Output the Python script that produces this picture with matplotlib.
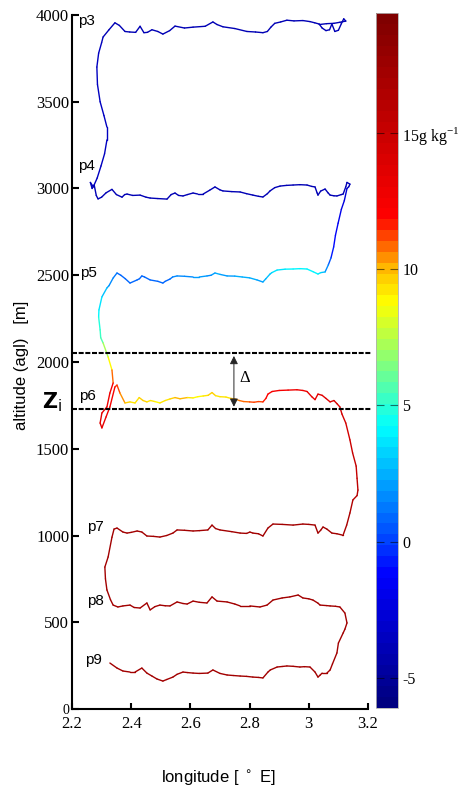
import numpy as np
import matplotlib
matplotlib.use("Agg")
import matplotlib.pyplot as plt
from matplotlib.collections import LineCollection
from matplotlib.colors import LinearSegmentedColormap, Normalize
from matplotlib.cm import ScalarMappable

# ---------------- data ----------------
# leg p3 (flown right -> left)
p3_lon = [3.035, 3.060, 3.085, 3.105, 3.125, 3.118, 3.110, 3.100, 3.088, 3.078, 3.070, 3.058,
          3.045, 3.035, 3.020, 3.004, 2.980, 2.950, 2.926, 2.905, 2.885, 2.872, 2.860, 2.845,
          2.820, 2.791, 2.750, 2.710, 2.690, 2.676, 2.650, 2.609, 2.580, 2.548, 2.530, 2.507,
          2.490, 2.470, 2.455, 2.443, 2.430, 2.415, 2.395, 2.379, 2.360, 2.345, 2.325, 2.305]
p3_alt = [3945, 3950, 3952, 3958, 3965, 3978, 3950, 3912, 3905, 3948, 3915, 3910,
          3925, 3948, 3955, 3962, 3968, 3966, 3970, 3960, 3952, 3930, 3905, 3898,
          3902, 3905, 3922, 3932, 3945, 3960, 3935, 3930, 3925, 3936, 3910, 3890,
          3905, 3915, 3900, 3898, 3935, 3900, 3902, 3905, 3940, 3955, 3915, 3873]
p3_q = -4.0

# profile p3 -> p4 (west side)
d34_lon = [2.300, 2.290, 2.284, 2.286, 2.295, 2.308, 2.318, 2.318, 2.310, 2.298, 2.285, 2.272]
d34_alt = [3840, 3780, 3700, 3600, 3500, 3420, 3354, 3280, 3200, 3130, 3060, 3010]
d34_q = -3.6

# leg p4 (left -> right)
p4_lon = [2.262, 2.268, 2.275, 2.282, 2.288, 2.300, 2.315, 2.335, 2.350, 2.369, 2.378, 2.386,
          2.405, 2.430, 2.450, 2.464, 2.490, 2.521, 2.535, 2.548, 2.560, 2.575, 2.590, 2.609,
          2.625, 2.643, 2.665, 2.683, 2.700, 2.710, 2.740, 2.768, 2.790, 2.811, 2.830, 2.845,
          2.860, 2.869, 2.885, 2.903, 2.925, 2.947, 2.970, 2.994, 3.010, 3.021, 3.028, 3.031,
          3.040, 3.055, 3.065, 3.072, 3.085, 3.095, 3.110, 3.116, 3.125, 3.129, 3.139, 3.135]
p4_alt = [3035, 3000, 3020, 2960, 2940, 2950, 2975, 2995, 2965, 2950, 2965, 2968,
          2960, 2962, 2950, 2945, 2942, 2939, 2965, 2974, 2960, 2957, 2965, 2974,
          2968, 2968, 2990, 3009, 2992, 2986, 2982, 2980, 2970, 2962, 2955, 2951,
          2970, 2986, 3005, 3014, 3018, 3020, 3022, 3020, 3012, 3009, 2975, 2962,
          2985, 2997, 2975, 2962, 2958, 2957, 2965, 2968, 3010, 3035, 3025, 3010]
p4_q = -3.8

# profile p4 -> p5 (east side)
d45_lon = [3.129, 3.120, 3.110, 3.099, 3.090, 3.084, 3.075, 3.066, 3.055]
d45_alt = [3000, 2930, 2880, 2800, 2730, 2663, 2600, 2560, 2519]
d45_q = [-3.0, -2.6, -2.2, -1.8, -1.4, -0.9, -0.2, 1.0, 2.5]

# leg p5 (right -> left)
p5_lon = [3.040, 3.031, 3.015, 2.994, 2.970, 2.947, 2.920, 2.893, 2.875, 2.869, 2.855, 2.845,
          2.825, 2.800, 2.775, 2.750, 2.724, 2.700, 2.683, 2.670, 2.656, 2.630, 2.609, 2.580,
          2.555, 2.540, 2.531, 2.515, 2.507, 2.490, 2.464, 2.445, 2.436, 2.428, 2.420, 2.396,
          2.380, 2.365, 2.352, 2.339, 2.325, 2.318, 2.301, 2.291, 2.290, 2.295]
p5_alt = [2515, 2507, 2520, 2536, 2538, 2536, 2535, 2530, 2515, 2507, 2480, 2461,
          2473, 2485, 2490, 2495, 2496, 2505, 2513, 2500, 2496, 2490, 2490, 2494,
          2496, 2490, 2478, 2465, 2455, 2465, 2473, 2490, 2496, 2480, 2473, 2455,
          2480, 2500, 2513, 2484, 2440, 2427, 2375, 2300, 2259, 2185]
p5_q = [3.6, 3.8, 4.0, 4.0, 3.8, 4.0, 3.9, 3.7, 3.5, 3.0, 2.6, 2.3,
        2.2, 2.5, 2.7, 2.3, 2.0, 2.2, 2.5, 1.9, 1.8, 2.1, 2.0, 1.6,
        1.8, 1.4, 1.1, 1.0, 1.1, 0.9, 1.0, 0.8, 1.0, 0.9, 0.8, 0.9,
        1.0, 0.9, 1.0, 1.4, 2.0, 2.5, 3.2, 4.0, 4.5, 5.0]

# profile p5 -> p6 (west side)
d56_lon = [2.297, 2.305, 2.322, 2.335, 2.339, 2.328, 2.318, 2.301, 2.295, 2.301, 2.315, 2.328,
           2.345, 2.352, 2.362, 2.379]
d56_alt = [2140, 2110, 2029, 1954, 1879, 1821, 1741, 1706, 1648, 1620, 1683, 1741,
           1856, 1867, 1821, 1764]
d56_q = [5.5, 6.2, 8.0, 9.5, 12.0, 12.8, 13.2, 13.5, 13.5, 13.5, 13.0, 12.5,
         12.0, 11.5, 11.0, 10.0]

# leg p6 (left -> right)
p6_lon = [2.379, 2.396, 2.413, 2.427, 2.440, 2.453, 2.465, 2.480, 2.497, 2.515,
          2.531, 2.548, 2.565, 2.590, 2.609, 2.625, 2.643, 2.660, 2.673, 2.685,
          2.700, 2.720, 2.737, 2.750, 2.765, 2.780, 2.800, 2.815, 2.830, 2.845,
          2.855, 2.862, 2.876, 2.900, 2.930, 2.960, 2.980, 2.994, 3.010, 3.021,
          3.031, 3.045, 3.058, 3.072, 3.085, 3.095, 3.105]
p6_alt = [1764, 1770, 1764, 1795, 1778, 1770, 1778, 1772, 1764, 1778,
          1787, 1795, 1788, 1795, 1793, 1800, 1804, 1808, 1824, 1806,
          1800, 1798, 1790, 1787, 1778, 1772, 1770, 1768, 1772, 1770,
          1790, 1815, 1830, 1836, 1838, 1840, 1836, 1830, 1800, 1783,
          1815, 1808, 1790, 1770, 1778, 1760, 1741]
p6_q = [10.0, 9.5, 9.0, 9.3, 9.8, 9.5, 9.2, 9.0, 9.0, 9.2,
        9.6, 10.0, 10.2, 9.5, 9.0, 8.8, 9.0, 9.5, 9.8, 9.2,
        9.0, 9.2, 9.6, 10.3, 10.5, 10.8, 11.0, 11.2, 11.3, 11.5,
        11.8, 12.0, 12.3, 12.5, 12.5, 12.8, 13.0, 13.0, 13.2, 13.3,
        13.5, 13.5, 13.7, 13.8, 14.0, 14.0, 14.2]

# profile p6 -> p7 (east side)
d67_lon = [3.112, 3.125, 3.139, 3.148, 3.160, 3.163, 3.166, 3.163, 3.149, 3.139, 3.128, 3.116]
d67_alt = [1700, 1648, 1551, 1476, 1400, 1330, 1262, 1230, 1205, 1130, 1060, 1003]
d67_q = [14.3, 14.5, 14.7, 15.0, 15.3, 15.5, 15.8, 16.0, 16.3, 16.5, 16.8, 17.0]

# leg p7 (right -> left)
p7_lon = [3.112, 3.095, 3.078, 3.061, 3.048, 3.040, 3.031, 3.021, 3.000, 2.980, 2.947, 2.910,
          2.879, 2.862, 2.845, 2.830, 2.811, 2.801, 2.790, 2.768, 2.740, 2.700, 2.685, 2.673,
          2.659, 2.630, 2.609, 2.580, 2.555, 2.541, 2.520, 2.497, 2.475, 2.453, 2.436, 2.420,
          2.400, 2.386, 2.372, 2.352, 2.342]
p7_alt = [1003, 1010, 1014, 1037, 1049, 1030, 1014, 1060, 1064, 1066, 1060, 1064,
          1066, 1043, 997, 1010, 1014, 1020, 1012, 1014, 1022, 1032, 1040, 1060,
          1032, 1028, 1026, 1030, 1032, 1014, 1000, 991, 995, 997, 1020, 1026,
          1018, 1014, 1020, 1043, 1037]
p7_q = 17.3

# profile p7 -> p8 (west side)
d78_lon = [2.335, 2.322, 2.311, 2.313, 2.318, 2.330, 2.339]
d78_alt = [990, 876, 818, 750, 686, 630, 599]
d78_q = 17.3

# leg p8 (left -> right)
p8_lon = [2.355, 2.372, 2.396, 2.410, 2.430, 2.453, 2.464, 2.480, 2.497, 2.515, 2.531, 2.555,
          2.575, 2.589, 2.609, 2.630, 2.656, 2.673, 2.690, 2.724, 2.750, 2.768, 2.801, 2.835,
          2.859, 2.879, 2.910, 2.936, 2.964, 2.980, 3.000, 3.014, 3.031, 3.038, 3.060, 3.072,
          3.090, 3.105, 3.122, 3.129]
p8_alt = [588, 594, 599, 585, 582, 611, 571, 590, 599, 595, 594, 617,
          608, 605, 622, 615, 611, 646, 622, 617, 605, 594, 594, 588,
          599, 628, 640, 646, 657, 640, 635, 628, 610, 599, 596, 594,
          592, 588, 553, 496]
p8_q = 17.3

# profile p8 -> p9 (east side)
d89_lon = [3.122, 3.116, 3.100, 3.095, 3.080, 3.072, 3.061]
d89_alt = [460, 438, 380, 323, 260, 225, 207]
d89_q = 17.3

# leg p9 (right -> left)
p9_lon = [3.045, 3.038, 3.031, 3.021, 3.004, 2.985, 2.970, 2.947, 2.926, 2.910, 2.893, 2.870,
          2.862, 2.845, 2.830, 2.811, 2.790, 2.768, 2.745, 2.724, 2.700, 2.676, 2.659, 2.630,
          2.609, 2.590, 2.575, 2.555, 2.541, 2.520, 2.507, 2.487, 2.470, 2.453, 2.436, 2.413,
          2.396, 2.372, 2.352, 2.328]
p9_alt = [207, 195, 184, 213, 242, 244, 242, 246, 248, 245, 242, 225,
          213, 179, 182, 184, 188, 190, 193, 196, 205, 225, 207, 205,
          207, 210, 213, 200, 184, 170, 161, 173, 190, 207, 236, 213,
          213, 219, 236, 265]
p9_q = 17.3

leg_names = ["p3", "p4", "p5", "p6", "p7", "p8", "p9"]
leg_label_lon = [2.220, 2.220, 2.227, 2.224, 2.251, 2.251, 2.244]
leg_label_alt = [3963, 3127, 2513, 1804, 1049, 620, 280]

zi_alt = 1727          # boundary-layer top (lower dashed line)
entr_top_alt = 2050    # top of entrainment zone (upper dashed line)
arrow_lon = 2.747

x_ticks = [2.2, 2.4, 2.6, 2.8, 3.0, 3.2]
x_ticklabels = ["2.2", "2.4", "2.6", "2.8", "3", "3.2"]
y_ticks = [0, 500, 1000, 1500, 2000, 2500, 3000, 3500, 4000]
cb_ticks = [-5, 0, 5, 10, 15]
cb_ticklabels = ["-5", "0", "5", "10", r"15g kg$^{\mathregular{-1}}$"]
q_min, q_max = -6.1, 19.4

# colour map anchors (value, colour)
cmap_vals = [-6.1, -1.3, 0.0, 4.2, 8.8, 10.0, 12.0, 19.4]
cmap_cols = [(0, 0, 0.5), (0, 0, 1), (0, 0.27, 1), (0, 1, 1), (1, 1, 0),
             (1, 0.75, 0), (1, 0, 0), (0.5, 0, 0)]

# ---------------- build track ----------------
segs = [(p3_lon, p3_alt, p3_q), (d34_lon, d34_alt, d34_q), (p4_lon, p4_alt, p4_q),
        (d45_lon, d45_alt, d45_q), (p5_lon, p5_alt, p5_q), (d56_lon, d56_alt, d56_q),
        (p6_lon, p6_alt, p6_q), (d67_lon, d67_alt, d67_q), (p7_lon, p7_alt, p7_q),
        (d78_lon, d78_alt, d78_q), (p8_lon, p8_alt, p8_q), (d89_lon, d89_alt, d89_q),
        (p9_lon, p9_alt, p9_q)]
lon_all, alt_all, q_all = [], [], []
for lo, al, qq in segs:
    lon_all += list(lo)
    alt_all += list(al)
    q_all += list(np.broadcast_to(np.asarray(qq, dtype=float), (len(lo),)))
lon_all = np.array(lon_all); alt_all = np.array(alt_all); q_all = np.array(q_all)

pos = [(v - q_min) / (q_max - q_min) for v in cmap_vals]
cmap = LinearSegmentedColormap.from_list("wv", list(zip(pos, cmap_cols)), N=64)
norm = Normalize(q_min, q_max)

serif = ["Liberation Serif", "DejaVu Serif"]
sans = ["Liberation Sans", "DejaVu Sans"]

fig = plt.figure(figsize=(4.59, 7.94), dpi=100)
ax = fig.add_axes([72 / 459, 1 - 709 / 794, 296 / 459, 694 / 794])
ax.set_xlim(2.2, 3.2)
ax.set_ylim(0, 4000)

pts = np.column_stack([lon_all, alt_all]).reshape(-1, 1, 2)
seg_arr = np.concatenate([pts[:-1], pts[1:]], axis=1)
lc = LineCollection(seg_arr, cmap=cmap, norm=norm, linewidths=1.0, capstyle="round")
lc.set_array(0.5 * (q_all[:-1] + q_all[1:]))
ax.add_collection(lc)

# dashed lines and arrow
for a in (entr_top_alt, zi_alt):
    ax.plot([2.2, 3.213], [a, a], color="k", lw=1.5, ls=(0, (2.4, 0.8)), clip_on=False, zorder=3)
ax.annotate("", xy=(arrow_lon, entr_top_alt - 15), xytext=(arrow_lon, zi_alt + 15),
            arrowprops=dict(arrowstyle="<|-|>", color="0.15", lw=0.7, mutation_scale=12,
                            shrinkA=0, shrinkB=0))
ax.text(arrow_lon + 0.037, 1908, "Δ", fontsize=12, family=serif, ha="center", va="center")
ax.text(2.132, 1770, r"$\mathbf{Z}_{\mathrm{i}}$", fontsize=15, ha="center", va="center",
        clip_on=False)

for nm, lo, al in zip(leg_names, leg_label_lon, leg_label_alt):
    ax.text(lo, al, nm, fontsize=11, family=sans, ha="left", va="center")

for s in ("top", "right"):
    ax.spines[s].set_visible(False)
for s in ("left", "bottom"):
    ax.spines[s].set_linewidth(1.5)
ax.set_xticks(x_ticks)
ax.set_xticklabels(x_ticklabels, family=serif, fontsize=12)
ax.set_yticks(y_ticks)
ax.set_yticklabels([str(v) for v in y_ticks], family=serif, fontsize=12)
ax.get_yticklabels()[0].set_fontsize(10)
ax.tick_params(axis="y", direction="in", length=5, width=1.5, pad=2)
ax.tick_params(axis="x", direction="in", length=4.5, width=1.5, pad=5)

fig.text(22 / 459, 1 - 365 / 794, "altitude (agl)   [m]", rotation=90, ha="center",
         va="center", fontsize=12, family=sans)
fig.text(218 / 459, 1 - 778 / 794, "longitude [ $^\\circ$ E]", ha="center", va="center",
         fontsize=12, family=sans)

# colour bar
cax = fig.add_axes([376 / 459, 1 - 708 / 794, 22 / 459, 695 / 794])
cb = fig.colorbar(ScalarMappable(norm=norm, cmap=cmap), cax=cax)
cb.outline.set_edgecolor("#b0b0b0")
cb.outline.set_linewidth(0.6)
cb.set_ticks(cb_ticks)
cb.set_ticklabels(cb_ticklabels)
cax.yaxis.set_ticks_position("both")
cax.tick_params(direction="in", length=6, width=0.8, colors="k", pad=3,
                labelleft=False, labelright=True, labelsize=11.5)
cax.tick_params(color=(0, 0, 0, 0.55))
for t in cax.get_yticklabels():
    t.set_family(serif)

fig.savefig("out.png", dpi=100)
